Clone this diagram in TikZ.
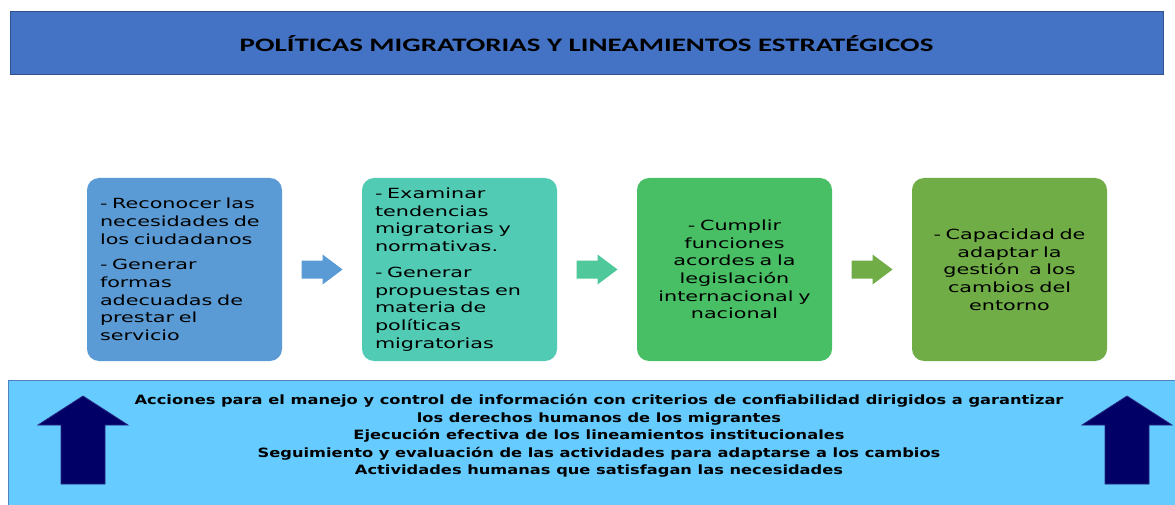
\documentclass[tikz,border=0pt]{standalone}
\usepackage{fontspec}
\setmainfont{DejaVu Sans}
\newfontfamily\boxfont[FakeStretch=1.48]{DejaVu Sans}
\newfontfamily\botfont[FakeStretch=1.27]{DejaVu Sans}
\newfontfamily\titlefont[FakeStretch=1.52]{Carlito}
\usetikzlibrary{calc}
\definecolor{bannerfill}{RGB}{68,114,196}
\definecolor{bannerline}{RGB}{47,82,143}
\definecolor{cA}{RGB}{91,155,213}
\definecolor{cB}{RGB}{82,203,181}
\definecolor{cC}{RGB}{72,191,100}
\definecolor{cD}{RGB}{112,173,71}
\definecolor{arB}{RGB}{79,200,155}
\definecolor{panelfill}{RGB}{102,204,255}
\definecolor{panelline}{RGB}{80,130,190}
\definecolor{navy}{RGB}{0,0,102}
\definecolor{navyline}{RGB}{40,40,130}
\tikzset{
  stepbox/.style={rounded corners=12pt, minimum width=195pt, minimum height=183pt,
    inner sep=0pt, text width=169pt, font=\boxfont\fontsize{14}{17.7}\selectfont, text=black},
  uparrow/.style={fill=navy, draw=navyline, line width=0.8pt},
}
\begin{document}
\begin{tikzpicture}[x=1pt,y=-1pt]
\useasboundingbox[fill=white] (0,0) rectangle (1175,505);
% banner
\node[fill=bannerfill, draw=bannerline, line width=1pt, minimum width=1153pt, minimum height=63pt, inner sep=0pt,
  font=\titlefont\bfseries\fontsize{19}{22}\selectfont] (title) at (586.5,43.5)
  {POLÍTICAS MIGRATORIAS Y LINEAMIENTOS ESTRATÉGICOS};
% bottom panel
\node[fill=panelfill, draw=panelline, line width=0.8pt, minimum width=1170pt, minimum height=128pt, inner sep=0pt, anchor=north west] (panel) at (8,380) {};
% boxes
\node[stepbox, fill=cA, align=left] (b1) at (184.5,269.5)
  {- Reconocer las\\necesidades de\\los ciudadanos\\[8pt]- Generar\\formas\\adecuadas de\\prestar el\\servicio};
\node[stepbox, fill=cB, align=left] (b2) at (459.5,269.5)
  {- Examinar\\tendencias\\migratorias y\\normativas.\\[8pt]- Generar\\propuestas en\\materia de\\políticas\\migratorias};
\node[stepbox, fill=cC, align=center] (b3) at (734.5,269.5)
  {- Cumplir\\funciones\\acordes a la\\legislación\\internacional y\\nacional};
\node[stepbox, fill=cD, align=center] (b4) at (1009.5,269.5)
  {- Capacidad de\\adaptar la\\gestión\ \ a los\\cambios del\\entorno};
% arrows between boxes
\foreach \a/\b/\c/\n in {b1/b2/cA/ar1, b2/b3/arB/ar2, b3/b4/cD/ar3}{
  \coordinate (\n) at ($(\a.east)!0.5!(\b.west)$);
  \fill[\c] ($(\n)+(-20.5,-9)$) -- ($(\n)+(0.5,-9)$) -- ($(\n)+(0.5,-15)$) -- ($(\n)+(20.5,0)$)
    -- ($(\n)+(0.5,15)$) -- ($(\n)+(0.5,9)$) -- ($(\n)+(-20.5,9)$) -- cycle;
}
% up arrows
\foreach \n/\x in {upL/83, upR/1127}{
  \coordinate (\n) at (\x,440);
  \path[uparrow] ($(\n)+(-22,44)$) -- ($(\n)+(-22,-15)$) -- ($(\n)+(-45,-15)$) -- ($(\n)+(0,-44)$)
    -- ($(\n)+(45,-15)$) -- ($(\n)+(22,-15)$) -- ($(\n)+(22,44)$) -- cycle;
}
% bottom text
\node[align=center, font=\botfont\bfseries\fontsize{12.8}{17.5}\selectfont, text=black, inner sep=0pt] (acts) at (599,436)
  {Acciones para el manejo y control de información con criterios de confiabilidad dirigidos a garantizar\\
   los derechos humanos de los migrantes\\
   Ejecución efectiva de los lineamientos institucionales\\
   Seguimiento y evaluación de las actividades para adaptarse a los cambios\\
   Actividades humanas que satisfagan las necesidades};
\end{tikzpicture}
\end{document}
